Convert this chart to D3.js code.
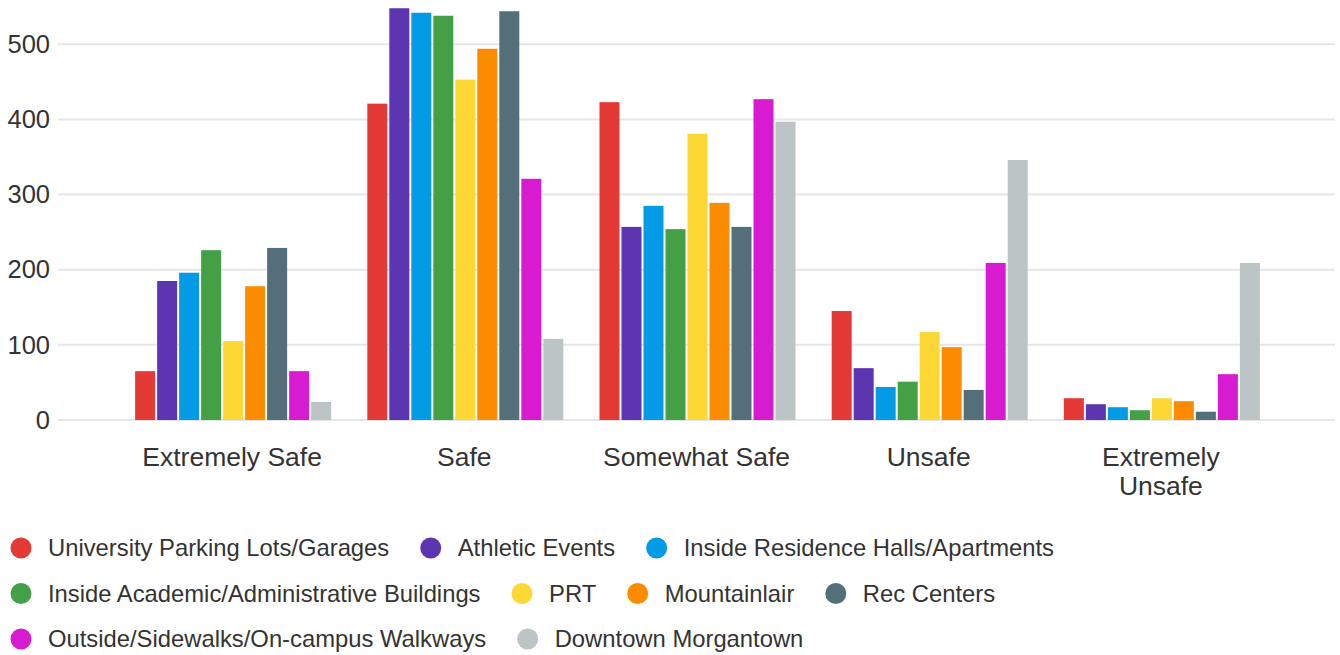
<!DOCTYPE html>
<html>
<head>
<meta charset="utf-8">
<script src="https://cdn.jsdelivr.net/npm/d3@7/dist/d3.min.js"></script>
<style>
  html, body { margin: 0; padding: 0; background: #fff; }
  svg { display: block; font-family: "Liberation Sans", Arial, sans-serif; }
</style>
</head>
<body>
<svg id="chart" width="1340" height="655"></svg>
<script>
const categories = [["Extremely Safe"], ["Safe"], ["Somewhat Safe"], ["Unsafe"], ["Extremely", "Unsafe"]];
const categoryKeys = ["Extremely Safe", "Safe", "Somewhat Safe", "Unsafe", "Extremely Unsafe"];
const seriesNames = [
  "University Parking Lots/Garages",
  "Athletic Events",
  "Inside Residence Halls/Apartments",
  "Inside Academic/Administrative Buildings",
  "PRT",
  "Mountainlair",
  "Rec Centers",
  "Outside/Sidewalks/On-campus Walkways",
  "Downtown Morgantown"
];
const seriesColors = ["#e53935", "#5e35b1", "#039be5", "#43a047", "#fdd835", "#fb8c00", "#546e7a", "#d81bd0", "#bdc4c6"];
const parkingLots   = [65, 421, 423, 145, 29];
const athletic      = [185, 548, 257, 69, 21];
const residence     = [196, 542, 285, 44, 17];
const academic      = [226, 538, 254, 51, 13];
const prt           = [105, 453, 381, 117, 29];
const mountainlair  = [178, 494, 289, 97, 25];
const recCenters    = [229, 544, 257, 40, 11];
const outside       = [65, 321, 427, 209, 61];
const downtown      = [24, 108, 397, 346, 209];
const seriesValues = [parkingLots, athletic, residence, academic, prt, mountainlair, recCenters, outside, downtown];
const yTicks = [0, 100, 200, 300, 400, 500];

const svg = d3.select("#chart");
const left = 58, right = 1335, y0 = 420, y500 = 44.3;

const x = d3.scaleBand().domain(categoryKeys).range([left, right]).paddingInner(0).paddingOuter(0.25);
const y = d3.scaleLinear().domain([0, 500]).range([y0, y500]);
const barSlot = 22, barW = 20;
const groupW = barSlot * seriesNames.length - (barSlot - barW);
const xs = d3.scaleBand().domain(d3.range(seriesNames.length)).range([0, barSlot * seriesNames.length]);

// gridlines
svg.append("g").selectAll("line").data(yTicks).join("line")
  .attr("x1", left).attr("x2", right)
  .attr("y1", d => y(d)).attr("y2", d => y(d))
  .attr("stroke", "#e6e6e6").attr("stroke-width", 2);

// y axis labels
const yAxis = d3.axisLeft(y).tickValues(yTicks).tickSize(0).tickPadding(0);
const yg = svg.append("g").attr("transform", `translate(50,0)`).call(yAxis);
yg.select(".domain").remove();
yg.selectAll("text").attr("font-size", 25.5).attr("fill", "#333").attr("font-family", "'Liberation Sans', Arial, sans-serif");

// bars
const groups = svg.append("g").selectAll("g").data(categoryKeys).join("g")
  .attr("transform", k => `translate(${x(k) + x.bandwidth() / 2 - groupW / 2 + 1},0)`);
groups.selectAll("rect").data((k, ci) => seriesValues.map((vals, si) => ({ si, v: vals[ci] }))).join("rect")
  .attr("x", d => xs(d.si))
  .attr("width", barW)
  .attr("y", d => y(d.v))
  .attr("height", d => y(0) - y(d.v))
  .attr("fill", d => seriesColors[d.si]);

// x labels
const xl = svg.append("g").selectAll("text").data(categoryKeys).join("text")
  .attr("x", k => x(k) + x.bandwidth() / 2)
  .attr("y", 466)
  .attr("text-anchor", "middle")
  .attr("font-size", 26.5)
  .attr("fill", "#333");
xl.each(function(k, i) {
  const t = d3.select(this);
  categories[i].forEach((line, li) => {
    t.append("tspan").attr("x", x(k) + x.bandwidth() / 2).attr("dy", li === 0 ? 0 : 29).text(line);
  });
});

// legend (flow layout)
const leg = svg.append("g");
const maxW = 1330, rowH = 45.5;
let cx = 21, row = 0;
seriesNames.forEach((name, i) => {
  const g = leg.append("g");
  const txt = g.append("text").attr("x", 27).attr("y", 0).attr("dy", "0.35em")
    .attr("font-size", 23.8).attr("fill", "#333").text(name);
  const w = txt.node().getComputedTextLength();
  const itemW = 27 + w;
  if (cx !== 21 && cx + itemW > maxW) { cx = 21; row++; }
  g.append("circle").attr("cx", 0).attr("cy", 0).attr("r", 10.5).attr("fill", seriesColors[i]);
  g.attr("transform", `translate(${cx},${548 + row * rowH})`);
  cx += itemW + 41.5;
});
</script>
</body>
</html>
